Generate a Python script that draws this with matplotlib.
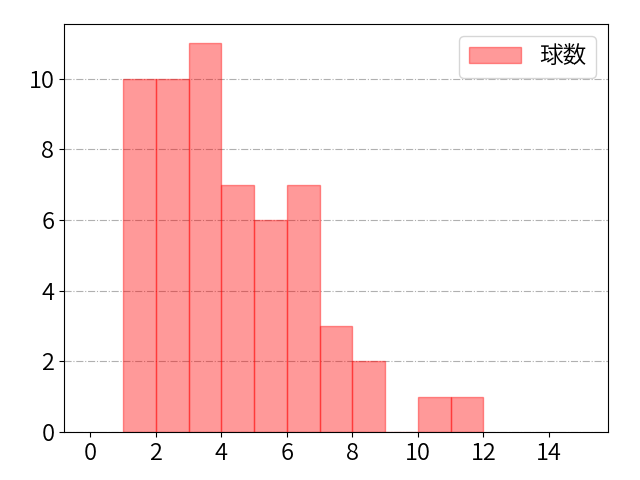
import matplotlib
matplotlib.use("Agg")
import matplotlib.pyplot as plt
import numpy as np

plt.rcParams['font.family'] = ['Noto Sans CJK JP', 'DejaVu Sans']
plt.rcParams['font.weight'] = 350

# pitch count histogram (bins of width 1)
bin_edges = [1, 2, 3, 4, 5, 6, 7, 8, 9, 10, 11, 12]
counts = [10, 10, 11, 7, 6, 7, 3, 2, 0, 1, 1]

fig, ax = plt.subplots(figsize=(6.4, 4.8), dpi=100)
ax.hist(bin_edges[:-1], bins=bin_edges, weights=counts,
        color='red', alpha=0.4, edgecolor='red', linewidth=1, label='球数')
ax.set_xlim(-0.8, 15.8)
ax.set_ylim(0, 11.55)
ax.set_xticks(np.arange(0, 16, 2))
ax.set_yticks(np.arange(0, 12, 2))
ax.tick_params(labelsize=17)
ax.grid(axis='y', linestyle='-.', color='#b0b0b0')
ax.set_axisbelow(True)
ax.legend(loc='upper right', fontsize=17, handlelength=2.2)
fig.subplots_adjust(left=0.1, right=0.95, top=0.95, bottom=0.1)
fig.savefig('out.png')
